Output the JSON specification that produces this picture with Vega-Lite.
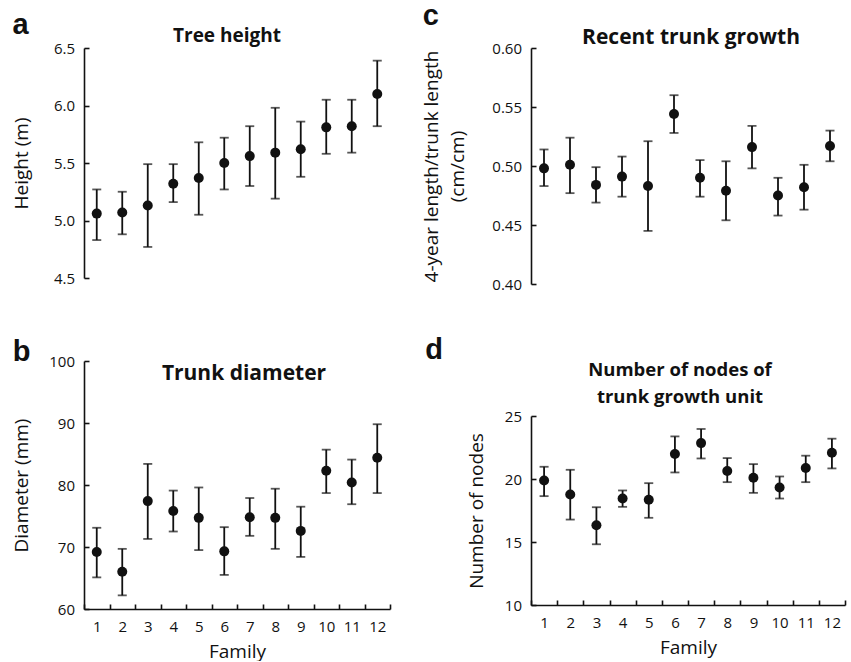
{
  "$schema": "https://vega.github.io/schema/vega-lite/v6.json",
  "padding": {"left": 12, "top": 2, "right": 5, "bottom": 0},
  "background": "white",
  "datasets": {
    "a": [
      {"family": 1, "mean": 5.06, "lo": 4.83, "hi": 5.27},
      {"family": 2, "mean": 5.07, "lo": 4.88, "hi": 5.25},
      {"family": 3, "mean": 5.13, "lo": 4.77, "hi": 5.49},
      {"family": 4, "mean": 5.32, "lo": 5.16, "hi": 5.49},
      {"family": 5, "mean": 5.37, "lo": 5.05, "hi": 5.68},
      {"family": 6, "mean": 5.50, "lo": 5.27, "hi": 5.72},
      {"family": 7, "mean": 5.56, "lo": 5.30, "hi": 5.82},
      {"family": 8, "mean": 5.59, "lo": 5.19, "hi": 5.98},
      {"family": 9, "mean": 5.62, "lo": 5.38, "hi": 5.86},
      {"family": 10, "mean": 5.81, "lo": 5.58, "hi": 6.05},
      {"family": 11, "mean": 5.82, "lo": 5.59, "hi": 6.05},
      {"family": 12, "mean": 6.10, "lo": 5.82, "hi": 6.39}
    ],
    "b": [
      {"family": 1, "mean": 69.2, "lo": 65.1, "hi": 73.1},
      {"family": 2, "mean": 66.0, "lo": 62.2, "hi": 69.7},
      {"family": 3, "mean": 77.4, "lo": 71.3, "hi": 83.4},
      {"family": 4, "mean": 75.8, "lo": 72.5, "hi": 79.1},
      {"family": 5, "mean": 74.7, "lo": 69.5, "hi": 79.6},
      {"family": 6, "mean": 69.3, "lo": 65.5, "hi": 73.2},
      {"family": 7, "mean": 74.8, "lo": 71.8, "hi": 77.9},
      {"family": 8, "mean": 74.7, "lo": 69.7, "hi": 79.4},
      {"family": 9, "mean": 72.6, "lo": 68.4, "hi": 76.5},
      {"family": 10, "mean": 82.3, "lo": 78.7, "hi": 85.7},
      {"family": 11, "mean": 80.4, "lo": 76.9, "hi": 84.1},
      {"family": 12, "mean": 84.4, "lo": 78.7, "hi": 89.8}
    ],
    "c": [
      {"family": 1, "mean": 0.498, "lo": 0.483, "hi": 0.514},
      {"family": 2, "mean": 0.501, "lo": 0.477, "hi": 0.524},
      {"family": 3, "mean": 0.484, "lo": 0.469, "hi": 0.499},
      {"family": 4, "mean": 0.491, "lo": 0.474, "hi": 0.508},
      {"family": 5, "mean": 0.483, "lo": 0.445, "hi": 0.521},
      {"family": 6, "mean": 0.544, "lo": 0.528, "hi": 0.560},
      {"family": 7, "mean": 0.490, "lo": 0.474, "hi": 0.505},
      {"family": 8, "mean": 0.479, "lo": 0.454, "hi": 0.504},
      {"family": 9, "mean": 0.516, "lo": 0.498, "hi": 0.534},
      {"family": 10, "mean": 0.475, "lo": 0.458, "hi": 0.490},
      {"family": 11, "mean": 0.482, "lo": 0.463, "hi": 0.501},
      {"family": 12, "mean": 0.517, "lo": 0.504, "hi": 0.530}
    ],
    "d": [
      {"family": 1, "mean": 19.88, "lo": 18.64, "hi": 20.97},
      {"family": 2, "mean": 18.77, "lo": 16.78, "hi": 20.73},
      {"family": 3, "mean": 16.33, "lo": 14.82, "hi": 17.76},
      {"family": 4, "mean": 18.45, "lo": 17.79, "hi": 19.09},
      {"family": 5, "mean": 18.35, "lo": 16.92, "hi": 19.67},
      {"family": 6, "mean": 21.98, "lo": 20.52, "hi": 23.38},
      {"family": 7, "mean": 22.85, "lo": 21.63, "hi": 23.97},
      {"family": 8, "mean": 20.63, "lo": 19.75, "hi": 21.66},
      {"family": 9, "mean": 20.10, "lo": 18.90, "hi": 21.18},
      {"family": 10, "mean": 19.33, "lo": 18.45, "hi": 20.20},
      {"family": 11, "mean": 20.87, "lo": 19.75, "hi": 21.85},
      {"family": 12, "mean": 22.08, "lo": 20.84, "hi": 23.20}
    ]
  },
  "config": {
    "font": "Open Sans",
    "view": {"stroke": null},
    "axis": {
      "grid": false,
      "labelFont": "Open Sans",
      "labelFontSize": 15,
      "labelColor": "#111",
      "titleFont": "Open Sans",
      "titleFontSize": 19,
      "titleFontWeight": "normal",
      "titleColor": "#111",
      "domainColor": "#111",
      "tickColor": "#111",
      "domainWidth": 1.6,
      "tickWidth": 1.6,
      "tickSize": -5,
      "labelPadding": 14.5
    },
    "axisX": {"labelPadding": 15, "titlePadding": 8, "labelAngle": 0, "tickBand": "extent"}
  },
  "hconcat": [
    {
      "spacing": 52,
      "vconcat": [
        {
          "title": {"text": "a", "font": "Liberation Sans", "fontSize": 29, "fontWeight": "bold", "anchor": "start", "color": "#111", "offset": -13},
          "vconcat": [
            {
              "width": 306, "height": 230,
              "data": {"name": "a"},
              "title": {"text": "Tree height", "font": "Open Sans", "fontSize": 19, "fontWeight": "bold", "color": "#111", "dx": -10, "offset": -5},
              "encoding": {"x": {"field": "family", "type": "ordinal", "scale": {"type": "band", "paddingInner": 0, "paddingOuter": 0}, "axis": null}},
              "layer": [
                {"mark": {"type": "rule", "color": "#111", "strokeWidth": 1.8},
                 "encoding": {"y": {"field": "lo", "type": "quantitative", "title": "Height (m)", "scale": {"domain": [4.5, 6.5], "nice": false, "zero": false}, "axis": {"values": [4.5, 5, 5.5, 6, 6.5], "format": ".1f", "titlePadding": 22}}, "y2": {"field": "hi"}}},
                {"mark": {"type": "tick", "orient": "horizontal", "size": 9, "thickness": 1.8, "color": "#111"},
                 "encoding": {"y": {"field": "lo", "type": "quantitative", "title": "Height (m)"}}},
                {"mark": {"type": "tick", "orient": "horizontal", "size": 9, "thickness": 1.8, "color": "#111"},
                 "encoding": {"y": {"field": "hi", "type": "quantitative", "title": "Height (m)"}}},
                {"mark": {"type": "point", "shape": "circle", "filled": true, "size": 100, "color": "#111", "opacity": 1},
                 "encoding": {"y": {"field": "mean", "type": "quantitative", "title": "Height (m)"}}}
              ]
            }
          ]
        },
        {
          "title": {"text": "b", "font": "Liberation Sans", "fontSize": 29, "fontWeight": "bold", "anchor": "start", "color": "#111", "offset": -13},
          "vconcat": [
            {
              "width": 306, "height": 248,
              "data": {"name": "b"},
              "title": {"text": "Trunk diameter", "font": "Open Sans", "fontSize": 21, "fontWeight": "bold", "color": "#111", "dx": 7, "offset": -30},
              "encoding": {"x": {"field": "family", "type": "ordinal", "title": "Family", "scale": {"type": "band", "paddingInner": 0, "paddingOuter": 0}}},
              "layer": [
                {"mark": {"type": "rule", "color": "#111", "strokeWidth": 1.8},
                 "encoding": {"y": {"field": "lo", "type": "quantitative", "title": "Diameter (mm)", "scale": {"domain": [60, 100], "nice": false, "zero": false}, "axis": {"values": [60, 70, 80, 90, 100], "titlePadding": 17}}, "y2": {"field": "hi"}}},
                {"mark": {"type": "tick", "orient": "horizontal", "size": 9, "thickness": 1.8, "color": "#111"},
                 "encoding": {"y": {"field": "lo", "type": "quantitative", "title": "Diameter (mm)"}}},
                {"mark": {"type": "tick", "orient": "horizontal", "size": 9, "thickness": 1.8, "color": "#111"},
                 "encoding": {"y": {"field": "hi", "type": "quantitative", "title": "Diameter (mm)"}}},
                {"mark": {"type": "point", "shape": "circle", "filled": true, "size": 100, "color": "#111", "opacity": 1},
                 "encoding": {"y": {"field": "mean", "type": "quantitative", "title": "Diameter (mm)"}}}
              ]
            }
          ]
        }
      ]
    },
    {
      "spacing": 43,
      "vconcat": [
        {
          "title": {"text": "c", "font": "Liberation Sans", "fontSize": 29, "fontWeight": "bold", "anchor": "start", "color": "#111", "offset": -4},
          "vconcat": [
            {
              "width": 312, "height": 236,
              "data": {"name": "c"},
              "title": {"text": "Recent trunk growth", "font": "Open Sans", "fontSize": 21, "fontWeight": "bold", "color": "#111", "dx": 4, "offset": -7},
              "encoding": {"x": {"field": "family", "type": "ordinal", "scale": {"type": "band", "paddingInner": 0, "paddingOuter": 0}, "axis": null}},
              "layer": [
                {"mark": {"type": "rule", "color": "#111", "strokeWidth": 1.8},
                 "encoding": {"y": {"field": "lo", "type": "quantitative", "title": ["4-year length/trunk length", "(cm/cm)"], "scale": {"domain": [0.4, 0.6], "nice": false, "zero": false}, "axis": {"values": [0.4, 0.45, 0.5, 0.55, 0.6], "format": ".2f", "titlePadding": 24, "titleLineHeight": 26}}, "y2": {"field": "hi"}}},
                {"mark": {"type": "tick", "orient": "horizontal", "size": 9, "thickness": 1.8, "color": "#111"},
                 "encoding": {"y": {"field": "lo", "type": "quantitative", "title": ["4-year length/trunk length", "(cm/cm)"]}}},
                {"mark": {"type": "tick", "orient": "horizontal", "size": 9, "thickness": 1.8, "color": "#111"},
                 "encoding": {"y": {"field": "hi", "type": "quantitative", "title": ["4-year length/trunk length", "(cm/cm)"]}}},
                {"mark": {"type": "point", "shape": "circle", "filled": true, "size": 100, "color": "#111", "opacity": 1},
                 "encoding": {"y": {"field": "mean", "type": "quantitative", "title": ["4-year length/trunk length", "(cm/cm)"]}}}
              ]
            }
          ]
        },
        {
          "title": {"text": "d", "font": "Liberation Sans", "fontSize": 29, "fontWeight": "bold", "anchor": "start", "color": "#111", "offset": -4, "dx": -42},
          "vconcat": [
            {
              "width": 314, "height": 189,
              "data": {"name": "d"},
              "title": {"text": ["Number of nodes of", "trunk growth unit"], "font": "Open Sans", "fontSize": 18.5, "fontWeight": "bold", "color": "#111", "lineHeight": 27, "dx": -8, "offset": 3},
              "encoding": {"x": {"field": "family", "type": "ordinal", "title": "Family", "scale": {"type": "band", "paddingInner": 0, "paddingOuter": 0}}},
              "layer": [
                {"mark": {"type": "rule", "color": "#111", "strokeWidth": 1.8},
                 "encoding": {"y": {"field": "lo", "type": "quantitative", "title": "Number of nodes", "scale": {"domain": [10, 25], "nice": false, "zero": false}, "axis": {"values": [10, 15, 20, 25], "titlePadding": 18}}, "y2": {"field": "hi"}}},
                {"mark": {"type": "tick", "orient": "horizontal", "size": 9, "thickness": 1.8, "color": "#111"},
                 "encoding": {"y": {"field": "lo", "type": "quantitative", "title": "Number of nodes"}}},
                {"mark": {"type": "tick", "orient": "horizontal", "size": 9, "thickness": 1.8, "color": "#111"},
                 "encoding": {"y": {"field": "hi", "type": "quantitative", "title": "Number of nodes"}}},
                {"mark": {"type": "point", "shape": "circle", "filled": true, "size": 100, "color": "#111", "opacity": 1},
                 "encoding": {"y": {"field": "mean", "type": "quantitative", "title": "Number of nodes"}}}
              ]
            }
          ]
        }
      ]
    }
  ],
  "spacing": 31
}
